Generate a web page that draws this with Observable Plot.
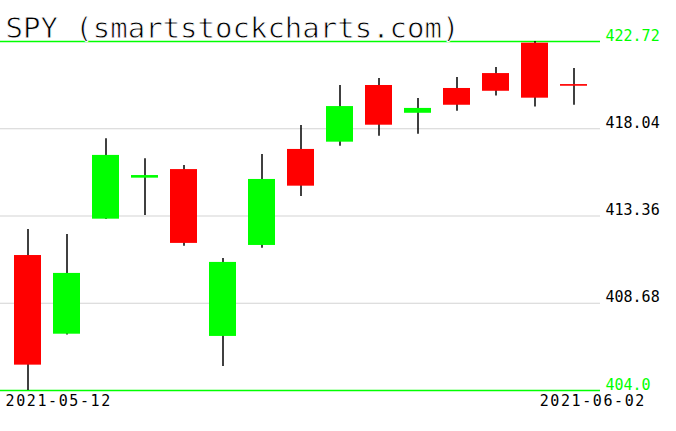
<!DOCTYPE html>
<html><head><meta charset="utf-8">
<script src="https://cdn.jsdelivr.net/npm/d3@7"></script>
<script src="https://cdn.jsdelivr.net/npm/@observablehq/plot@0.6"></script>
<style>body{margin:0;background:#fff}</style>
</head><body><div id="chart"></div>
<script>
const title = "SPY (smartstockcharts.com)";
const dates = ["2021-05-12","2021-05-13","2021-05-14","2021-05-17","2021-05-18","2021-05-19","2021-05-20","2021-05-21","2021-05-24","2021-05-25","2021-05-26","2021-05-27","2021-05-28","2021-06-01","2021-06-02"];
const opens  = [411.24, 407.02, 413.19, 415.39, 415.85, 406.90, 411.78, 416.93, 417.32, 420.36, 418.87, 420.20, 421.00, 422.63, 420.41];
const highs  = [412.64, 412.37, 417.50, 416.43, 416.07, 411.08, 416.66, 418.21, 420.36, 420.74, 419.66, 420.79, 421.33, 422.72, 421.27];
const lows   = [404.00, 406.98, 413.17, 413.39, 411.74, 405.29, 411.63, 414.41, 417.10, 417.64, 417.75, 418.98, 419.79, 419.20, 419.30];
const closes = [405.36, 410.28, 416.61, 415.53, 411.89, 410.87, 415.32, 414.96, 419.23, 418.23, 419.13, 419.30, 420.05, 419.68, 420.32];
const gridTicks = [408.68, 413.36, 418.04];
const gridLabels = ["408.68", "413.36", "418.04"];
const boundTicks = [404.0, 422.72];
const boundLabels = ["404.0", "422.72"];
const dateLabels = [dates[0], dates[dates.length - 1]];

const data = dates.map((d, i) => ({date: d, open: opens[i], high: highs[i], low: lows[i], close: closes[i]}));
const mono = "DejaVu Sans Mono";

const chart = Plot.plot({
  width: 676, height: 431,
  marginLeft: 0, marginRight: 76, marginTop: 41, marginBottom: 41,
  style: {background: "#fff", overflow: "visible"},
  x: {type: "band", domain: dates, range: [13, 588.8], paddingInner: 0.31, paddingOuter: 0, axis: null},
  y: {domain: [404, 422.72], axis: null},
  color: {domain: ["up", "down"], range: ["#00ff00", "#ff0000"]},
  marks: [
    Plot.ruleY(gridTicks, {stroke: "#d3d3d3", strokeWidth: 1}),
    Plot.ruleY(boundTicks, {stroke: "#00ff00", strokeWidth: 1.5}),
    Plot.text(gridTicks, {y: d => d, text: (d, i) => gridLabels[i], frameAnchor: "right", textAnchor: "start", dx: 5, lineAnchor: "bottom", dy: -1, fill: "#000", fontSize: 15, fontFamily: mono}),
    Plot.text(boundTicks, {y: d => d, text: (d, i) => boundLabels[i], frameAnchor: "right", textAnchor: "start", dx: 5, lineAnchor: "bottom", dy: -1, fill: "#00ff00", fontSize: 15, fontFamily: mono}),
    Plot.ruleX(data, {x: "date", y1: "low", y2: "high", stroke: "#000", strokeWidth: 1.5}),
    Plot.barY(data, {x: "date", y1: "open", y2: "close", fill: d => d.close >= d.open ? "up" : "down"}),
    Plot.text([dateLabels[0]], {x: d => d, text: d => d, frameAnchor: "bottom", textAnchor: "start", dx: -22.5, lineAnchor: "top", dy: 5, fill: "#000", fontSize: 15, fontFamily: mono}),
    Plot.text([dateLabels[1]], {x: d => d, text: d => d, frameAnchor: "bottom", textAnchor: "end", dx: 72, lineAnchor: "top", dy: 5, fill: "#000", fontSize: 15, fontFamily: mono}),
    Plot.text([title], {text: d => d, frameAnchor: "top-left", textAnchor: "start", lineAnchor: "bottom", dx: 5, dy: -3.5, fill: "#000", stroke: "#fff", strokeWidth: 0.8, paintOrder: "fill", fontSize: 29, fontFamily: mono})
  ]
});
d3.select(chart).selectAll("text").filter(function () { return dateLabels.includes(this.textContent); }).style("letter-spacing", "1.6px");
document.getElementById("chart").appendChild(chart);
</script>
</body></html>
